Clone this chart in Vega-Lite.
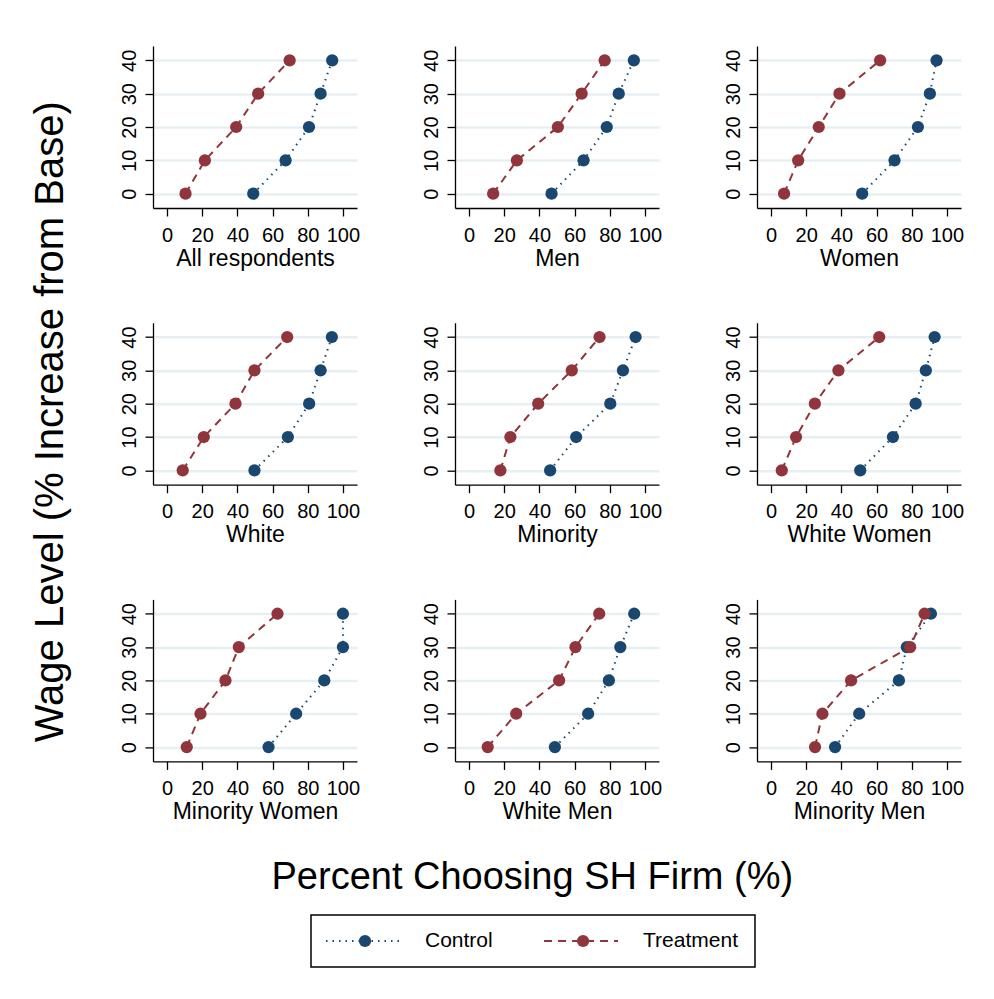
{
"$schema": "https://vega.github.io/schema/vega-lite/v6.json",
"background": "white",
"padding": {"left": 30, "top": 46, "right": 10, "bottom": 10},
"data": {"values": [
{"group":"All respondents","arm":"Control","wage":0,"pct":49.0},{"group":"All respondents","arm":"Control","wage":10,"pct":67.4},{"group":"All respondents","arm":"Control","wage":20,"pct":80.7},{"group":"All respondents","arm":"Control","wage":30,"pct":87.3},{"group":"All respondents","arm":"Control","wage":40,"pct":93.9},
{"group":"Men","arm":"Control","wage":0,"pct":46.9},{"group":"Men","arm":"Control","wage":10,"pct":65.1},{"group":"Men","arm":"Control","wage":20,"pct":78.3},{"group":"Men","arm":"Control","wage":30,"pct":85.1},{"group":"Men","arm":"Control","wage":40,"pct":93.7},
{"group":"Women","arm":"Control","wage":0,"pct":51.8},{"group":"Women","arm":"Control","wage":10,"pct":70.2},{"group":"Women","arm":"Control","wage":20,"pct":83.5},{"group":"Women","arm":"Control","wage":30,"pct":90.3},{"group":"Women","arm":"Control","wage":40,"pct":94.1},
{"group":"White","arm":"Control","wage":0,"pct":49.7},{"group":"White","arm":"Control","wage":10,"pct":68.7},{"group":"White","arm":"Control","wage":20,"pct":80.8},{"group":"White","arm":"Control","wage":30,"pct":87.3},{"group":"White","arm":"Control","wage":40,"pct":93.7},
{"group":"Minority","arm":"Control","wage":0,"pct":46.1},{"group":"Minority","arm":"Control","wage":10,"pct":60.9},{"group":"Minority","arm":"Control","wage":20,"pct":80.3},{"group":"Minority","arm":"Control","wage":30,"pct":87.5},{"group":"Minority","arm":"Control","wage":40,"pct":94.7},
{"group":"White Women","arm":"Control","wage":0,"pct":50.7},{"group":"White Women","arm":"Control","wage":10,"pct":69.3},{"group":"White Women","arm":"Control","wage":20,"pct":82.2},{"group":"White Women","arm":"Control","wage":30,"pct":88.0},{"group":"White Women","arm":"Control","wage":40,"pct":93.0},
{"group":"Minority Women","arm":"Control","wage":0,"pct":57.7},{"group":"Minority Women","arm":"Control","wage":10,"pct":73.4},{"group":"Minority Women","arm":"Control","wage":20,"pct":89.4},{"group":"Minority Women","arm":"Control","wage":30,"pct":100},{"group":"Minority Women","arm":"Control","wage":40,"pct":100},
{"group":"White Men","arm":"Control","wage":0,"pct":48.8},{"group":"White Men","arm":"Control","wage":10,"pct":67.7},{"group":"White Men","arm":"Control","wage":20,"pct":79.5},{"group":"White Men","arm":"Control","wage":30,"pct":86.0},{"group":"White Men","arm":"Control","wage":40,"pct":93.9},
{"group":"Minority Men","arm":"Control","wage":0,"pct":36.4},{"group":"Minority Men","arm":"Control","wage":10,"pct":50.1},{"group":"Minority Men","arm":"Control","wage":20,"pct":72.7},{"group":"Minority Men","arm":"Control","wage":30,"pct":77.2},{"group":"Minority Men","arm":"Control","wage":40,"pct":90.9},
{"group":"All respondents","arm":"Treatment","wage":0,"pct":10.5},{"group":"All respondents","arm":"Treatment","wage":10,"pct":21.5},{"group":"All respondents","arm":"Treatment","wage":20,"pct":39.3},{"group":"All respondents","arm":"Treatment","wage":30,"pct":51.8},{"group":"All respondents","arm":"Treatment","wage":40,"pct":69.7},
{"group":"Men","arm":"Treatment","wage":0,"pct":13.7},{"group":"Men","arm":"Treatment","wage":10,"pct":27.2},{"group":"Men","arm":"Treatment","wage":20,"pct":50.5},{"group":"Men","arm":"Treatment","wage":30,"pct":64.0},{"group":"Men","arm":"Treatment","wage":40,"pct":77.1},
{"group":"Women","arm":"Treatment","wage":0,"pct":7.4},{"group":"Women","arm":"Treatment","wage":10,"pct":15.4},{"group":"Women","arm":"Treatment","wage":20,"pct":27.1},{"group":"Women","arm":"Treatment","wage":30,"pct":38.9},{"group":"Women","arm":"Treatment","wage":40,"pct":62.0},
{"group":"White","arm":"Treatment","wage":0,"pct":8.9},{"group":"White","arm":"Treatment","wage":10,"pct":20.9},{"group":"White","arm":"Treatment","wage":20,"pct":38.9},{"group":"White","arm":"Treatment","wage":30,"pct":49.7},{"group":"White","arm":"Treatment","wage":40,"pct":68.3},
{"group":"Minority","arm":"Treatment","wage":0,"pct":17.8},{"group":"Minority","arm":"Treatment","wage":10,"pct":23.5},{"group":"Minority","arm":"Treatment","wage":20,"pct":39.3},{"group":"Minority","arm":"Treatment","wage":30,"pct":58.4},{"group":"Minority","arm":"Treatment","wage":40,"pct":74.2},
{"group":"White Women","arm":"Treatment","wage":0,"pct":6.1},{"group":"White Women","arm":"Treatment","wage":10,"pct":14.2},{"group":"White Women","arm":"Treatment","wage":20,"pct":24.9},{"group":"White Women","arm":"Treatment","wage":30,"pct":38.3},{"group":"White Women","arm":"Treatment","wage":40,"pct":61.5},
{"group":"Minority Women","arm":"Treatment","wage":0,"pct":11.2},{"group":"Minority Women","arm":"Treatment","wage":10,"pct":19.0},{"group":"Minority Women","arm":"Treatment","wage":20,"pct":33.2},{"group":"Minority Women","arm":"Treatment","wage":30,"pct":40.8},{"group":"Minority Women","arm":"Treatment","wage":40,"pct":62.8},
{"group":"White Men","arm":"Treatment","wage":0,"pct":10.6},{"group":"White Men","arm":"Treatment","wage":10,"pct":26.8},{"group":"White Men","arm":"Treatment","wage":20,"pct":51.2},{"group":"White Men","arm":"Treatment","wage":30,"pct":60.5},{"group":"White Men","arm":"Treatment","wage":40,"pct":74.0},
{"group":"Minority Men","arm":"Treatment","wage":0,"pct":25.0},{"group":"Minority Men","arm":"Treatment","wage":10,"pct":29.2},{"group":"Minority Men","arm":"Treatment","wage":20,"pct":45.5},{"group":"Minority Men","arm":"Treatment","wage":30,"pct":79.1},{"group":"Minority Men","arm":"Treatment","wage":40,"pct":87.3}
]},
"vconcat": [
 {
  "title": {"text": "Wage Level (% Increase from Base)", "orient": "left", "anchor": "middle", "fontSize": 40, "fontWeight": "normal", "color": "#000", "offset": 48, "dx": 50},
  "vconcat": [
   {
    "title": {"text": "Percent Choosing SH Firm (%)", "orient": "bottom", "anchor": "middle", "fontSize": 38, "fontWeight": "normal", "color": "#000", "offset": 36, "dx": -9},
    "columns": 3,
    "spacing": {"row": 114.7, "column": 98},
    "bounds": "flush",
    "concat": [
      {"transform":[{"filter":{"field":"group","equal":"All respondents"}}],"width":204,"height":162,
       "encoding":{"x":{"field":"pct","type":"quantitative","scale":{"domain":[-8,108],"nice":false,"zero":false},"axis":{"values":[0,20,40,60,80,100],"title":"All respondents"}},
        "y":{"field":"wage","type":"quantitative","scale":{"domain":[-4.3,44.3],"nice":false,"zero":false},"axis":{"values":[0,10,20,30,40],"title":null}},
        "color":{"field":"arm","type":"nominal","scale":{"domain":["Control","Treatment"],"range":["#1a476f","#90353b"]},"legend":null}},
       "layer":[{"mark":{"type":"line","strokeWidth":2},"encoding":{"strokeDash":{"field":"arm","type":"nominal","scale":{"domain":["Control","Treatment"],"range":[[1.5,5],[8,6]]},"legend":null},"order":{"field":"wage","type":"quantitative"}}},{"mark":{"type":"circle","size":150,"opacity":1}}]},
      {"transform":[{"filter":{"field":"group","equal":"Men"}}],"width":204,"height":162,
       "encoding":{"x":{"field":"pct","type":"quantitative","scale":{"domain":[-8,108],"nice":false,"zero":false},"axis":{"values":[0,20,40,60,80,100],"title":"Men"}},
        "y":{"field":"wage","type":"quantitative","scale":{"domain":[-4.3,44.3],"nice":false,"zero":false},"axis":{"values":[0,10,20,30,40],"title":null}},
        "color":{"field":"arm","type":"nominal","scale":{"domain":["Control","Treatment"],"range":["#1a476f","#90353b"]},"legend":null}},
       "layer":[{"mark":{"type":"line","strokeWidth":2},"encoding":{"strokeDash":{"field":"arm","type":"nominal","scale":{"domain":["Control","Treatment"],"range":[[1.5,5],[8,6]]},"legend":null},"order":{"field":"wage","type":"quantitative"}}},{"mark":{"type":"circle","size":150,"opacity":1}}]},
      {"transform":[{"filter":{"field":"group","equal":"Women"}}],"width":204,"height":162,
       "encoding":{"x":{"field":"pct","type":"quantitative","scale":{"domain":[-8,108],"nice":false,"zero":false},"axis":{"values":[0,20,40,60,80,100],"title":"Women"}},
        "y":{"field":"wage","type":"quantitative","scale":{"domain":[-4.3,44.3],"nice":false,"zero":false},"axis":{"values":[0,10,20,30,40],"title":null}},
        "color":{"field":"arm","type":"nominal","scale":{"domain":["Control","Treatment"],"range":["#1a476f","#90353b"]},"legend":null}},
       "layer":[{"mark":{"type":"line","strokeWidth":2},"encoding":{"strokeDash":{"field":"arm","type":"nominal","scale":{"domain":["Control","Treatment"],"range":[[1.5,5],[8,6]]},"legend":null},"order":{"field":"wage","type":"quantitative"}}},{"mark":{"type":"circle","size":150,"opacity":1}}]},
      {"transform":[{"filter":{"field":"group","equal":"White"}}],"width":204,"height":162,
       "encoding":{"x":{"field":"pct","type":"quantitative","scale":{"domain":[-8,108],"nice":false,"zero":false},"axis":{"values":[0,20,40,60,80,100],"title":"White"}},
        "y":{"field":"wage","type":"quantitative","scale":{"domain":[-4.3,44.3],"nice":false,"zero":false},"axis":{"values":[0,10,20,30,40],"title":null}},
        "color":{"field":"arm","type":"nominal","scale":{"domain":["Control","Treatment"],"range":["#1a476f","#90353b"]},"legend":null}},
       "layer":[{"mark":{"type":"line","strokeWidth":2},"encoding":{"strokeDash":{"field":"arm","type":"nominal","scale":{"domain":["Control","Treatment"],"range":[[1.5,5],[8,6]]},"legend":null},"order":{"field":"wage","type":"quantitative"}}},{"mark":{"type":"circle","size":150,"opacity":1}}]},
      {"transform":[{"filter":{"field":"group","equal":"Minority"}}],"width":204,"height":162,
       "encoding":{"x":{"field":"pct","type":"quantitative","scale":{"domain":[-8,108],"nice":false,"zero":false},"axis":{"values":[0,20,40,60,80,100],"title":"Minority"}},
        "y":{"field":"wage","type":"quantitative","scale":{"domain":[-4.3,44.3],"nice":false,"zero":false},"axis":{"values":[0,10,20,30,40],"title":null}},
        "color":{"field":"arm","type":"nominal","scale":{"domain":["Control","Treatment"],"range":["#1a476f","#90353b"]},"legend":null}},
       "layer":[{"mark":{"type":"line","strokeWidth":2},"encoding":{"strokeDash":{"field":"arm","type":"nominal","scale":{"domain":["Control","Treatment"],"range":[[1.5,5],[8,6]]},"legend":null},"order":{"field":"wage","type":"quantitative"}}},{"mark":{"type":"circle","size":150,"opacity":1}}]},
      {"transform":[{"filter":{"field":"group","equal":"White Women"}}],"width":204,"height":162,
       "encoding":{"x":{"field":"pct","type":"quantitative","scale":{"domain":[-8,108],"nice":false,"zero":false},"axis":{"values":[0,20,40,60,80,100],"title":"White Women"}},
        "y":{"field":"wage","type":"quantitative","scale":{"domain":[-4.3,44.3],"nice":false,"zero":false},"axis":{"values":[0,10,20,30,40],"title":null}},
        "color":{"field":"arm","type":"nominal","scale":{"domain":["Control","Treatment"],"range":["#1a476f","#90353b"]},"legend":null}},
       "layer":[{"mark":{"type":"line","strokeWidth":2},"encoding":{"strokeDash":{"field":"arm","type":"nominal","scale":{"domain":["Control","Treatment"],"range":[[1.5,5],[8,6]]},"legend":null},"order":{"field":"wage","type":"quantitative"}}},{"mark":{"type":"circle","size":150,"opacity":1}}]},
      {"transform":[{"filter":{"field":"group","equal":"Minority Women"}}],"width":204,"height":162,
       "encoding":{"x":{"field":"pct","type":"quantitative","scale":{"domain":[-8,108],"nice":false,"zero":false},"axis":{"values":[0,20,40,60,80,100],"title":"Minority Women"}},
        "y":{"field":"wage","type":"quantitative","scale":{"domain":[-4.3,44.3],"nice":false,"zero":false},"axis":{"values":[0,10,20,30,40],"title":null}},
        "color":{"field":"arm","type":"nominal","scale":{"domain":["Control","Treatment"],"range":["#1a476f","#90353b"]},"legend":null}},
       "layer":[{"mark":{"type":"line","strokeWidth":2},"encoding":{"strokeDash":{"field":"arm","type":"nominal","scale":{"domain":["Control","Treatment"],"range":[[1.5,5],[8,6]]},"legend":null},"order":{"field":"wage","type":"quantitative"}}},{"mark":{"type":"circle","size":150,"opacity":1}}]},
      {"transform":[{"filter":{"field":"group","equal":"White Men"}}],"width":204,"height":162,
       "encoding":{"x":{"field":"pct","type":"quantitative","scale":{"domain":[-8,108],"nice":false,"zero":false},"axis":{"values":[0,20,40,60,80,100],"title":"White Men"}},
        "y":{"field":"wage","type":"quantitative","scale":{"domain":[-4.3,44.3],"nice":false,"zero":false},"axis":{"values":[0,10,20,30,40],"title":null}},
        "color":{"field":"arm","type":"nominal","scale":{"domain":["Control","Treatment"],"range":["#1a476f","#90353b"]},"legend":null}},
       "layer":[{"mark":{"type":"line","strokeWidth":2},"encoding":{"strokeDash":{"field":"arm","type":"nominal","scale":{"domain":["Control","Treatment"],"range":[[1.5,5],[8,6]]},"legend":null},"order":{"field":"wage","type":"quantitative"}}},{"mark":{"type":"circle","size":150,"opacity":1}}]},
      {"transform":[{"filter":{"field":"group","equal":"Minority Men"}}],"width":204,"height":162,
       "encoding":{"x":{"field":"pct","type":"quantitative","scale":{"domain":[-8,108],"nice":false,"zero":false},"axis":{"values":[0,20,40,60,80,100],"title":"Minority Men"}},
        "y":{"field":"wage","type":"quantitative","scale":{"domain":[-4.3,44.3],"nice":false,"zero":false},"axis":{"values":[0,10,20,30,40],"title":null}},
        "color":{"field":"arm","type":"nominal","scale":{"domain":["Control","Treatment"],"range":["#1a476f","#90353b"]},"legend":null}},
       "layer":[{"mark":{"type":"line","strokeWidth":2},"encoding":{"strokeDash":{"field":"arm","type":"nominal","scale":{"domain":["Control","Treatment"],"range":[[1.5,5],[8,6]]},"legend":null},"order":{"field":"wage","type":"quantitative"}}},{"mark":{"type":"circle","size":150,"opacity":1}}]}
    ]
   }
  ]
 },
 {
  "spacing": 0,
  "bounds": "flush",
  "hconcat": [
   {"width": 158, "height": 52, "data": {"values": []}, "mark": "point", "view": {"stroke": null}},
   {"width": 444, "height": 52,
    "data": {"values": [{"arm": "Control"}, {"arm": "Treatment"}]},
    "view": {"stroke": "#000", "strokeWidth": 1.5},
    "encoding": {
     "x": {"field": "arm", "type": "nominal", "scale": {"type": "point", "padding": 0.518, "align": 0.239}, "axis": null},
     "color": {"field": "arm", "type": "nominal", "scale": {"domain": ["Control","Treatment"], "range": ["#1a476f","#90353b"]}, "legend": null}
    },
    "layer": [
     {"mark": {"type": "rule", "strokeWidth": 2, "xOffset": -39, "x2Offset": 35}, "encoding": {"x2": {"field": "arm"}, "strokeDash": {"field": "arm", "type": "nominal", "scale": {"domain": ["Control","Treatment"], "range": [[1.5,6],[8,6]]}, "legend": null}}},
     {"mark": {"type": "circle", "size": 150, "opacity": 1}},
     {"mark": {"type": "text", "align": "left", "dx": 60, "fontSize": 21}, "encoding": {"text": {"field": "arm"}, "color": {"value": "#000"}}}
    ]
   }
  ]
 }
],
"spacing": 16,
"config": {
 "font": "Liberation Sans",
 "view": {"stroke": null},
 "axis": {"domainColor": "#000", "domainWidth": 1.3, "tickColor": "#000", "tickWidth": 1.3, "tickSize": 8, "labelColor": "#000", "labelFontSize": 20, "titleFontSize": 23, "titleFontWeight": "normal", "titleColor": "#000", "labelOverlap": false, "labelFlush": false},
 "axisX": {"grid": false, "labelAngle": 0, "labelPadding": 9, "titlePadding": 2},
 "axisY": {"grid": true, "gridColor": "#e8eff2", "gridWidth": 2.5, "labelAngle": -90, "labelPadding": 6}
}
}
